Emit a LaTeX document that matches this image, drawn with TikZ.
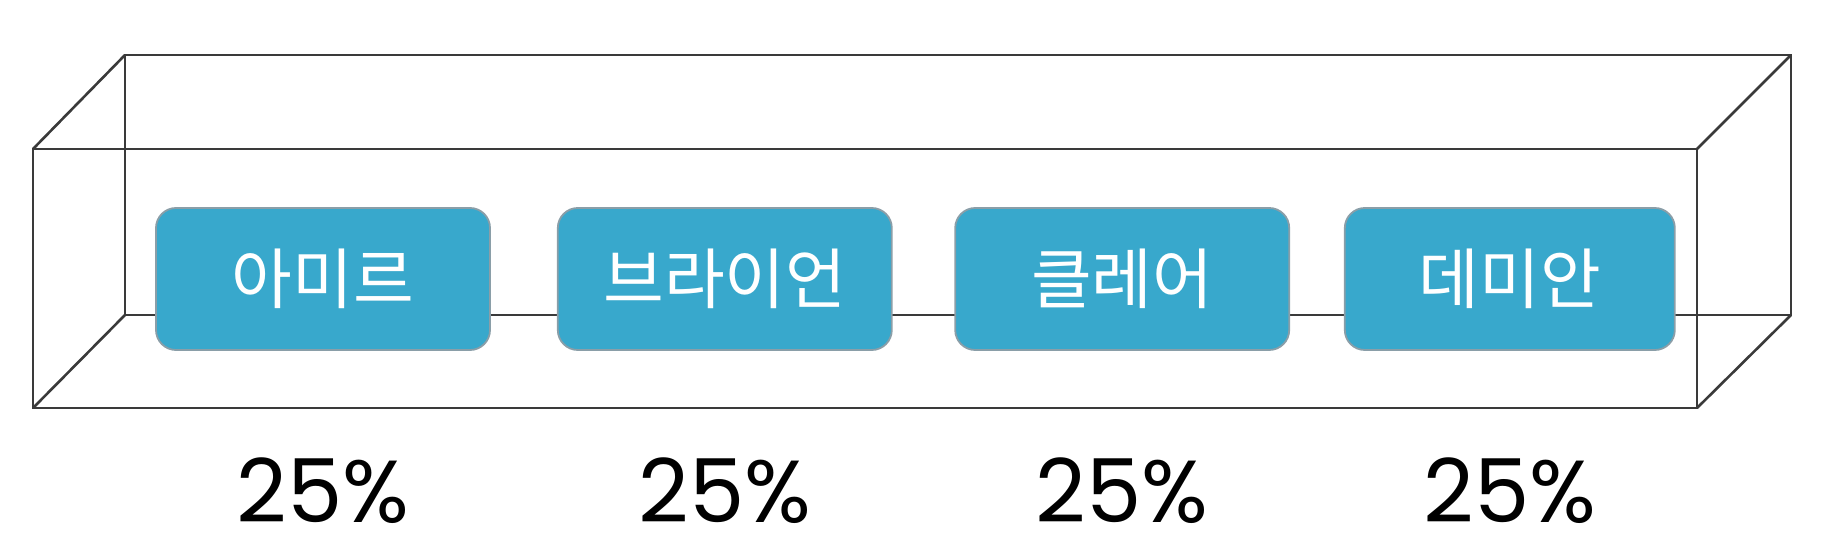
\documentclass[tikz,border=0pt]{standalone}
\usepackage{fontspec}
\newfontfamily\krfont{Noto Sans CJK KR}
\newfontfamily\numfont{Poppins}
\usetikzlibrary{positioning}

\definecolor{boxblue}{HTML}{38A8CC}
\definecolor{boxedge}{HTML}{8A9EA8}
\definecolor{wire}{HTML}{3A3A3A}

\tikzset{
    wireframe/.style={draw=wire, line width=1.3pt, line join=miter},
    namebox/.style={rectangle, rounded corners=10pt, fill=boxblue, draw=boxedge, line width=0.9pt,
        minimum width=167pt, minimum height=71pt, inner sep=0pt,
        text=white, font=\krfont\fontsize{33}{38}\selectfont},
    pct/.style={anchor=base, inner sep=0pt, text=black, font=\numfont\fontsize{44}{50}\selectfont}
}

\begin{document}
\begin{tikzpicture}[x=0.5pt, y=-0.5pt]
        \useasboundingbox (0,0) rectangle (1839,560);
        % front face
        \coordinate (F1) at (33,149);
        \coordinate (F2) at (1697,149);
        \coordinate (F3) at (1697,408);
        \coordinate (F4) at (33,408);
        % back face
        \coordinate (B1) at (125,55);
        \coordinate (B2) at (1791,55);
        \coordinate (B3) at (1791,315);
        \coordinate (B4) at (125,315);
        \draw[wireframe] (B1) -- (B2) -- (B3) -- (B4) -- cycle;
        \draw[wireframe] (F1) -- (F2) -- (F3) -- (F4) -- cycle;
        \draw[wireframe] (F1) -- (B1) (F2) -- (B2) (F3) -- (B3) (F4) -- (B4);
        % names
        \node[namebox] (amir) at (323,279) {아미르};
        \node[namebox, right=33pt of amir] (brian) {브라이언};
        \node[namebox, right=30.8pt of brian] (claire) {클레어};
        \node[namebox, right=26.9pt of claire, minimum width=165pt] (damian) {데미안};
        % shares
        \node[pct] (pamir) at (amir |- 0,522) {25\%};
        \node[pct] (pbrian) at (brian |- 0,522) {25\%};
        \node[pct] (pclaire) at (claire |- 0,522) {25\%};
        \node[pct] (pdamian) at (damian |- 0,522) {25\%};
    \end{tikzpicture}
\end{document}
